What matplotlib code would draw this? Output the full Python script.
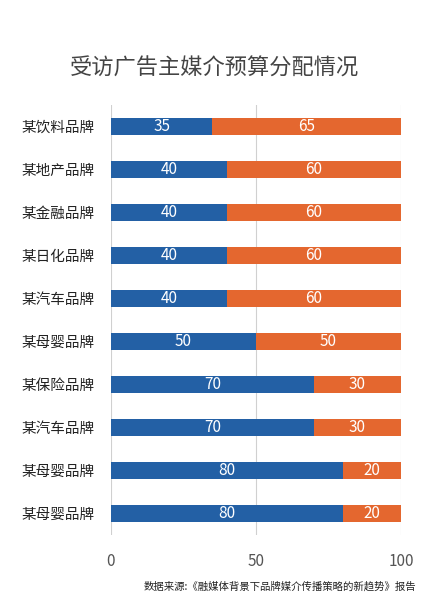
import matplotlib
matplotlib.use("Agg")
import matplotlib.pyplot as plt

plt.rcParams['font.family'] = ['Noto Sans CJK SC', 'DejaVu Sans']

categories = ["某饮料品牌", "某地产品牌", "某金融品牌", "某日化品牌", "某汽车品牌",
              "某母婴品牌", "某保险品牌", "某汽车品牌", "某母婴品牌", "某母婴品牌"]
series_a = [35, 40, 40, 40, 40, 50, 70, 70, 80, 80]
series_b = [65, 60, 60, 60, 60, 50, 30, 30, 20, 20]
xticks = [0, 50, 100]
title = "受访广告主媒介预算分配情况"
source = "数据来源:《融媒体背景下品牌媒介传播策略的新趋势》报告"

blue = "#2360A5"
orange = "#E4672F"

fig = plt.figure(figsize=(4.28, 6.03), dpi=100)
ax = fig.add_axes([0.2593, 0.1128, 0.6776, 0.7131])

y = list(range(len(categories)))
ax.barh(y, series_a, height=0.4, color=blue, zorder=3)
ax.barh(y, series_b, left=series_a, height=0.4, color=orange, zorder=3)
for i in y:
    ax.text(series_a[i] / 2, i, str(series_a[i]), color="white", ha="center", va="center",
            fontsize=11, zorder=4)
    ax.text(series_a[i] + series_b[i] / 2, i, str(series_b[i]), color="white", ha="center",
            va="center", fontsize=11, zorder=4)

ax.set_xlim(0, 100)
ax.set_ylim(len(categories) - 0.5, -0.5)
ax.set_yticks(y)
ax.set_yticklabels(categories, fontsize=10.5, color="#222222", fontweight="medium")
ax.set_xticks(xticks)
ax.set_xticklabels([str(t) for t in xticks], fontsize=11, color="#555555")
ax.tick_params(axis="both", length=0)
ax.tick_params(axis="x", pad=13)
ax.tick_params(axis="y", pad=12)
ax.grid(axis="x", color="#d0d0d0", linewidth=0.8, zorder=0)
for s in ax.spines.values():
    s.set_visible(False)

fig.text(0.5, 0.887, title, ha="center", va="center", fontsize=16, color="#444444",
         fontweight="medium")
fig.text(0.972, 0.027, source, ha="right", va="center", fontsize=7.5, color="#222222")

fig.savefig("out.png", dpi=100)
